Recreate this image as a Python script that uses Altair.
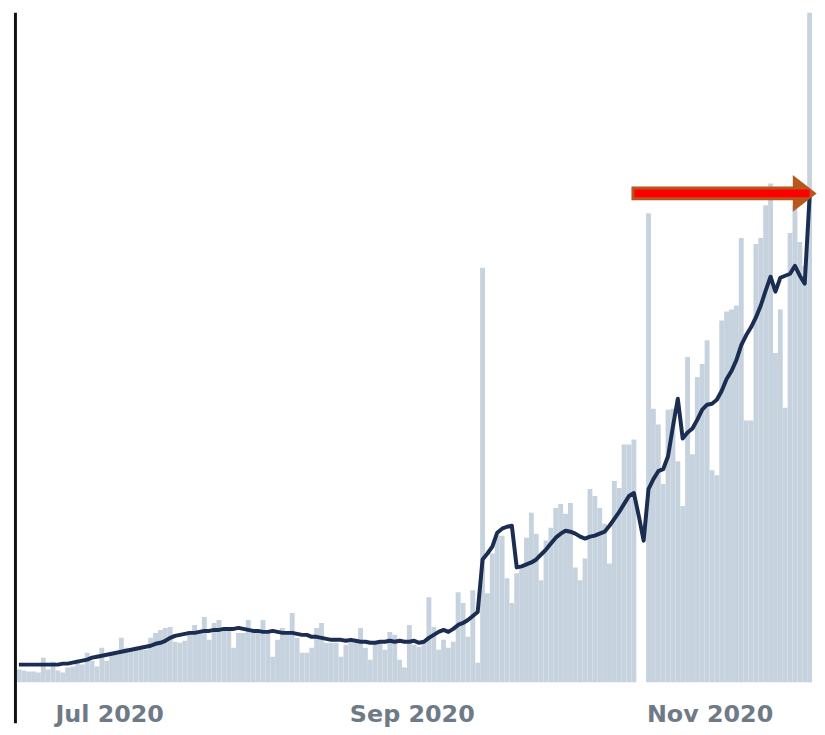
import altair as alt
import pandas as pd

# ---- data -------------------------------------------------------------
start_date = "2020-06-12"

daily_cases = [
    130, 120, 110, 110, 100, 250, 130, 210, 120, 100,
    150, 160, 230, 180, 300, 220, 160, 350, 220, 280,
    280, 450, 350, 340, 360, 330, 330, 450, 500, 530,
    550, 560, 410, 400, 420, 520, 580, 510, 660, 430,
    600, 630, 530, 560, 350, 500, 500, 630, 510, 520,
    630, 500, 260, 430, 550, 500, 700, 450, 300, 300,
    350, 550, 600, 400, 400, 400, 260, 380, 430, 430,
    550, 350, 230, 400, 400, 330, 510, 480, 230, 150,
    580, 380, 360, 400, 860, 560, 330, 430, 350, 410,
    910, 800, 460, 930, 200, 4180, 900, 1300, 1480, 1480,
    1050, 800, 1100, 1160, 1460, 1710, 1500, 1030, 1430, 1560,
    1760, 1800, 1700, 1810, 1160, 1030, 1250, 1950, 1880, 1760,
    1600, 1200, 2030, 1960, 2400, 2400, 2450, 0, 0, 4730,
    2760, 2600, 2000, 2750, 2760, 2230, 1780, 3280, 2300, 3080,
    3210, 3450, 2140, 2090, 3650, 3740, 3760, 3800, 4480, 2640,
    2640, 4420, 4480, 4810, 5030, 3320, 3760, 2770, 4530, 4810,
    4440, 4200, 7200,
]

avg_cases = [
    180, 180, 180, 180, 180, 180, 180, 180, 180, 190,
    190, 200, 210, 220, 230, 250, 260, 270, 280, 290,
    300, 310, 320, 330, 340, 350, 360, 370, 390, 400,
    420, 450, 470, 480, 490, 500, 500, 510, 520, 520,
    530, 530, 540, 540, 540, 550, 540, 530, 520, 520,
    510, 510, 520, 510, 500, 500, 500, 490, 480, 480,
    460, 460, 450, 440, 430, 430, 430, 420, 430, 420,
    410, 410, 400, 400, 410, 410, 420, 410, 420, 410,
    410, 420, 400, 410, 450, 480, 510, 530, 510, 540,
    580, 600, 630, 670, 710, 1240, 1300, 1370, 1510, 1550,
    1570, 1580, 1160, 1170, 1190, 1210, 1240, 1290, 1340, 1400,
    1460, 1500, 1530, 1520, 1500, 1470, 1450, 1470, 1480, 1500,
    1520, 1580, 1650, 1720, 1800, 1880, 1910, 1680, 1430, 1950,
    2050, 2130, 2150, 2280, 2580, 2860, 2460, 2520, 2560, 2650,
    2750, 2800, 2810, 2850, 2940, 3060, 3140, 3250, 3400, 3500,
    3580, 3680, 3800, 3950, 4090, 3940, 4080, 4100, 4120, 4200,
    4100, 4020, 4900,
]

tick_dates = [(2020, 7, 1), (2020, 9, 1), (2020, 11, 1)]
domain_start = (2020, 6, 12)
domain_end = (2020, 11, 22)
y_max = 6750

# arrow annotation (data coordinates)
arrow_level = 4930
arrow_tail = "2020-10-16T00:00:00"
arrow_red_tail = "2020-10-16T14:00:00"
arrow_shaft_end = "2020-11-20T10:00:00"
arrow_red_end = "2020-11-21T12:00:00"
arrow_head_at = "2020-11-20T12:00:00"

# ---- tables -------------------------------------------------------------
dates = pd.date_range(start_date, periods=len(daily_cases), freq="D")
df = pd.DataFrame({
    "start": dates,
    "end": dates + pd.Timedelta(days=1),
    "mid": dates + pd.Timedelta(hours=12),
    "cases": daily_cases,
    "avg": avg_cases,
})
shaft_df = pd.DataFrame({"a": [arrow_tail], "b": [arrow_shaft_end], "level": [arrow_level]})
red_df = pd.DataFrame({"a": [arrow_red_tail], "b": [arrow_red_end], "level": [arrow_level]})
head_df = pd.DataFrame({"a": [arrow_head_at], "level": [arrow_level]})
one = pd.DataFrame({"k": [0]})

def dt(t):
    return alt.DateTime(year=t[0], month=t[1], date=t[2])

xs = alt.Scale(domain=[dt(domain_start), dt(domain_end)])
ys = alt.Scale(domain=[0, y_max])
x_axis = alt.Axis(values=[dt(t) for t in tick_dates], format="%b %Y")

bars = alt.Chart(df).mark_bar(color="#c6d3de", clip=True, strokeWidth=0).encode(
    x=alt.X("start:T", scale=xs, title=None, axis=x_axis),
    x2="end:T",
    y=alt.Y("cases:Q", scale=ys, axis=None),
    y2=alt.datum(0),
)

line = alt.Chart(df).mark_line(color="#1c2d52", strokeWidth=4, strokeJoin="round").encode(
    x=alt.X("mid:T", scale=xs, title=None, axis=x_axis),
    y=alt.Y("avg:Q", scale=ys, axis=None),
)

left_rule = alt.Chart(one).mark_rule(color="#111111", strokeWidth=3).encode(
    x=alt.value(-1), y=alt.value(0), y2=alt.value(716)
)

shaft = alt.Chart(shaft_df).mark_rule(color="#b8561f", strokeWidth=14, strokeCap="butt").encode(
    x=alt.X("a:T", scale=xs, title=None, axis=x_axis), x2="b:T",
    y=alt.Y("level:Q", scale=ys, axis=None),
)
head = alt.Chart(head_df).mark_point(
    shape="M-0.65,-1L0.65,0L-0.65,1Z", filled=True, size=1369,
    color="#b8561f", opacity=1, strokeWidth=0,
).encode(
    x=alt.X("a:T", scale=xs, title=None, axis=x_axis),
    y=alt.Y("level:Q", scale=ys, axis=None),
)
red = alt.Chart(red_df).mark_rule(color="#ff0000", strokeWidth=8, strokeCap="butt").encode(
    x=alt.X("a:T", scale=xs, title=None, axis=x_axis), x2="b:T",
    y=alt.Y("level:Q", scale=ys, axis=None),
)

chart = alt.layer(bars, line, left_rule, shaft, head, red).properties(
    width=802, height=675,
    padding={"left": 5.5, "top": 0, "right": 0, "bottom": 0},
    background="white",
).configure_view(stroke=None).configure_axis(
    labelFont="DejaVu Sans", labelFontWeight="bold", labelFontSize=24,
    labelColor="#6f7a87", labelPadding=20, ticks=False, tickSize=0,
    domain=False, grid=False,
)

chart.save("out.html", embed_options={"renderer": "svg", "actions": False})
